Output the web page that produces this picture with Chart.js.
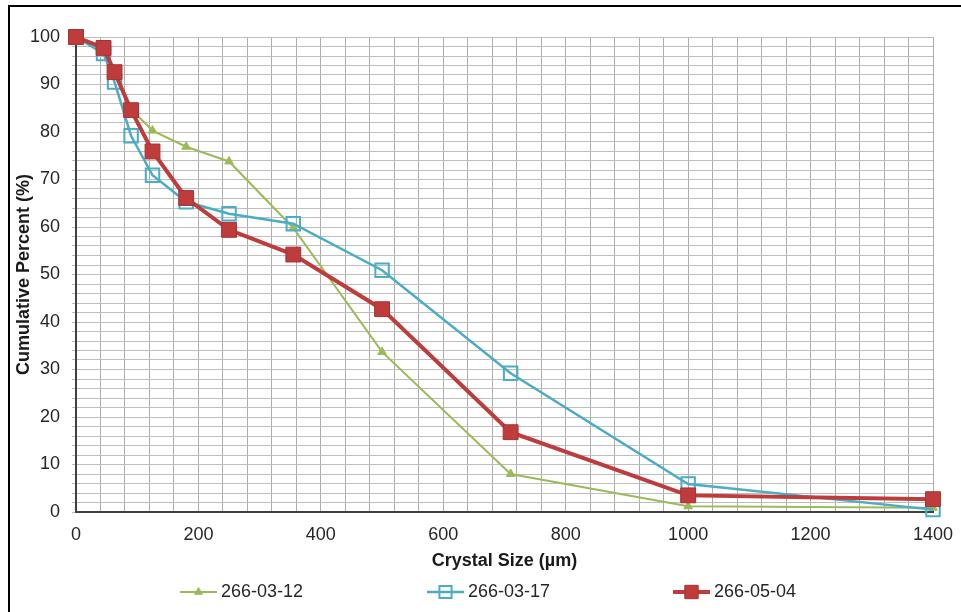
<!DOCTYPE html>
<html>
<head>
<meta charset="utf-8">
<script src="https://cdn.jsdelivr.net/npm/chart.js@4/dist/chart.umd.min.js"></script>
<style>
  html, body { margin: 0; padding: 0; background: #ffffff; }
  #wrap { position: relative; width: 961px; height: 612px; }
  #frame { position: absolute; left: 8px; top: 5px; right: 0; bottom: 0; border-top: 2px solid #000; border-left: 2px solid #000; }
  canvas { position: absolute; left: 0; top: 0; }
</style>
</head>
<body>
<div id="wrap">
  <div id="frame"></div>
  <canvas id="c" width="961" height="612"></canvas>
</div>
<script>
// Sieve sizes (µm)
const crystalSizes = [0, 45, 63, 90, 125, 180, 250, 355, 500, 710, 1000, 1400];
// Cumulative percent passing for each sample
const series_266_03_12 = [100, 97.6, 92.3, 84.8, 80.3, 76.9, 73.8, 59.8, 33.7, 8.0, 1.2, 0.9];
const series_266_03_17 = [100, 96.5, 90.5, 79.2, 70.9, 65.3, 62.8, 60.7, 50.9, 29.2, 5.9, 0.5];
const series_266_05_04 = [100, 97.7, 92.6, 84.6, 75.9, 66.1, 59.4, 54.2, 42.7, 16.8, 3.5, 2.7];
const seriesNames = ['266-03-12', '266-03-17', '266-05-04'];
const xTickLabelStep = 200;
const yTickLabelStep = 10;

const toPoints = vals => crystalSizes.map((x, i) => ({ x: x, y: vals[i] }));

const FONT = "'Liberation Sans', Arial, sans-serif";

const legendPlugin = {
  id: 'lineLegend',
  afterDraw(chart) {
    const ctx = chart.ctx;
    const starts = [180, 427, 673];
    const y = 592;
    chart.data.datasets.forEach((ds, i) => {
      const x0 = starts[i];
      const len = 37;
      ctx.save();
      ctx.strokeStyle = ds.borderColor;
      ctx.lineWidth = ds.borderWidth;
      ctx.beginPath();
      ctx.moveTo(x0, y);
      ctx.lineTo(x0 + len, y);
      ctx.stroke();
      ctx.fillStyle = ds.pointBackgroundColor;
      ctx.strokeStyle = ds.pointBorderColor;
      ctx.lineWidth = ds.pointBorderWidth;
      Chart.helpers.drawPoint(ctx, {
        pointStyle: ds.pointStyle,
        radius: ds.pointRadius * 0.9,
        borderWidth: ds.pointBorderWidth,
        rotation: 0
      }, x0 + len / 2, y);
      ctx.fillStyle = '#262626';
      ctx.font = "18px " + FONT;
      ctx.textBaseline = 'middle';
      ctx.textAlign = 'left';
      ctx.fillText(ds.label, x0 + len + 4, y);
      ctx.restore();
    });
  }
};

new Chart(document.getElementById('c'), {
  type: 'line',
  data: {
    datasets: [
      {
        label: seriesNames[0],
        data: toPoints(series_266_03_12),
        borderColor: '#9BBB59',
        borderWidth: 2,
        pointStyle: 'triangle',
        pointRadius: 5,
        pointBackgroundColor: '#9BBB59',
        pointBorderColor: '#9BBB59',
        pointBorderWidth: 1,
        order: 3,
        clip: false,
        tension: 0
      },
      {
        label: seriesNames[1],
        data: toPoints(series_266_03_17),
        borderColor: '#4BACC6',
        borderWidth: 2.5,
        pointStyle: 'rect',
        pointRadius: 9.5,
        pointBackgroundColor: 'rgba(255,255,255,0)',
        pointBorderColor: '#4BACC6',
        pointBorderWidth: 2,
        order: 2,
        clip: false,
        tension: 0
      },
      {
        label: seriesNames[2],
        data: toPoints(series_266_05_04),
        borderColor: '#BE3C3C',
        borderWidth: 4,
        pointStyle: 'rect',
        pointRadius: 10.5,
        pointBackgroundColor: '#BE3C3C',
        pointBorderColor: '#A83232',
        pointBorderWidth: 1,
        order: 1,
        clip: false,
        tension: 0
      }
    ]
  },
  options: {
    responsive: false,
    animation: false,
    layout: { padding: { left: 0, top: 37, right: 28, bottom: 30 } },
    plugins: {
      legend: { display: false },
      tooltip: { enabled: false }
    },
    scales: {
      x: {
        type: 'linear',
        min: 0,
        max: 1400,
        afterFit: s => { s.height = 70; s.paddingRight = 0; s.paddingLeft = 0; },
        border: { color: '#404040', width: 2 },
        grid: { color: '#ADADAD', lineWidth: 1, drawTicks: false },
        ticks: {
          stepSize: 40,
          autoSkip: false,
          maxRotation: 0,
          padding: 12,
          color: '#262626',
          font: { family: FONT, size: 18 },
          callback: v => (v % xTickLabelStep === 0 ? String(v) : '')
        },
        title: {
          display: true,
          text: 'Crystal Size (µm)',
          color: '#1a1a1a',
          font: { family: FONT, size: 18, weight: 'bold' },
          padding: { top: 0, bottom: 10 }
        }
      },
      y: {
        type: 'linear',
        min: 0,
        max: 100,
        afterFit: s => { s.width = 76; s.paddingTop = 0; s.paddingBottom = 0; },
        border: { color: '#404040', width: 2 },
        grid: { color: '#BDBDBD', lineWidth: 1, drawTicks: true, tickLength: 4 },
        ticks: {
          stepSize: 2,
          autoSkip: false,
          padding: 12,
          color: '#262626',
          font: { family: FONT, size: 18 },
          callback: v => (v % yTickLabelStep === 0 ? String(v) : '')
        },
        title: {
          display: true,
          text: 'Cumulative Percent (%)',
          color: '#1a1a1a',
          font: { family: FONT, size: 18, weight: 'bold' },
          padding: { top: 13, bottom: 0 }
        }
      }
    }
  },
  plugins: [legendPlugin]
});
</script>
</body>
</html>
